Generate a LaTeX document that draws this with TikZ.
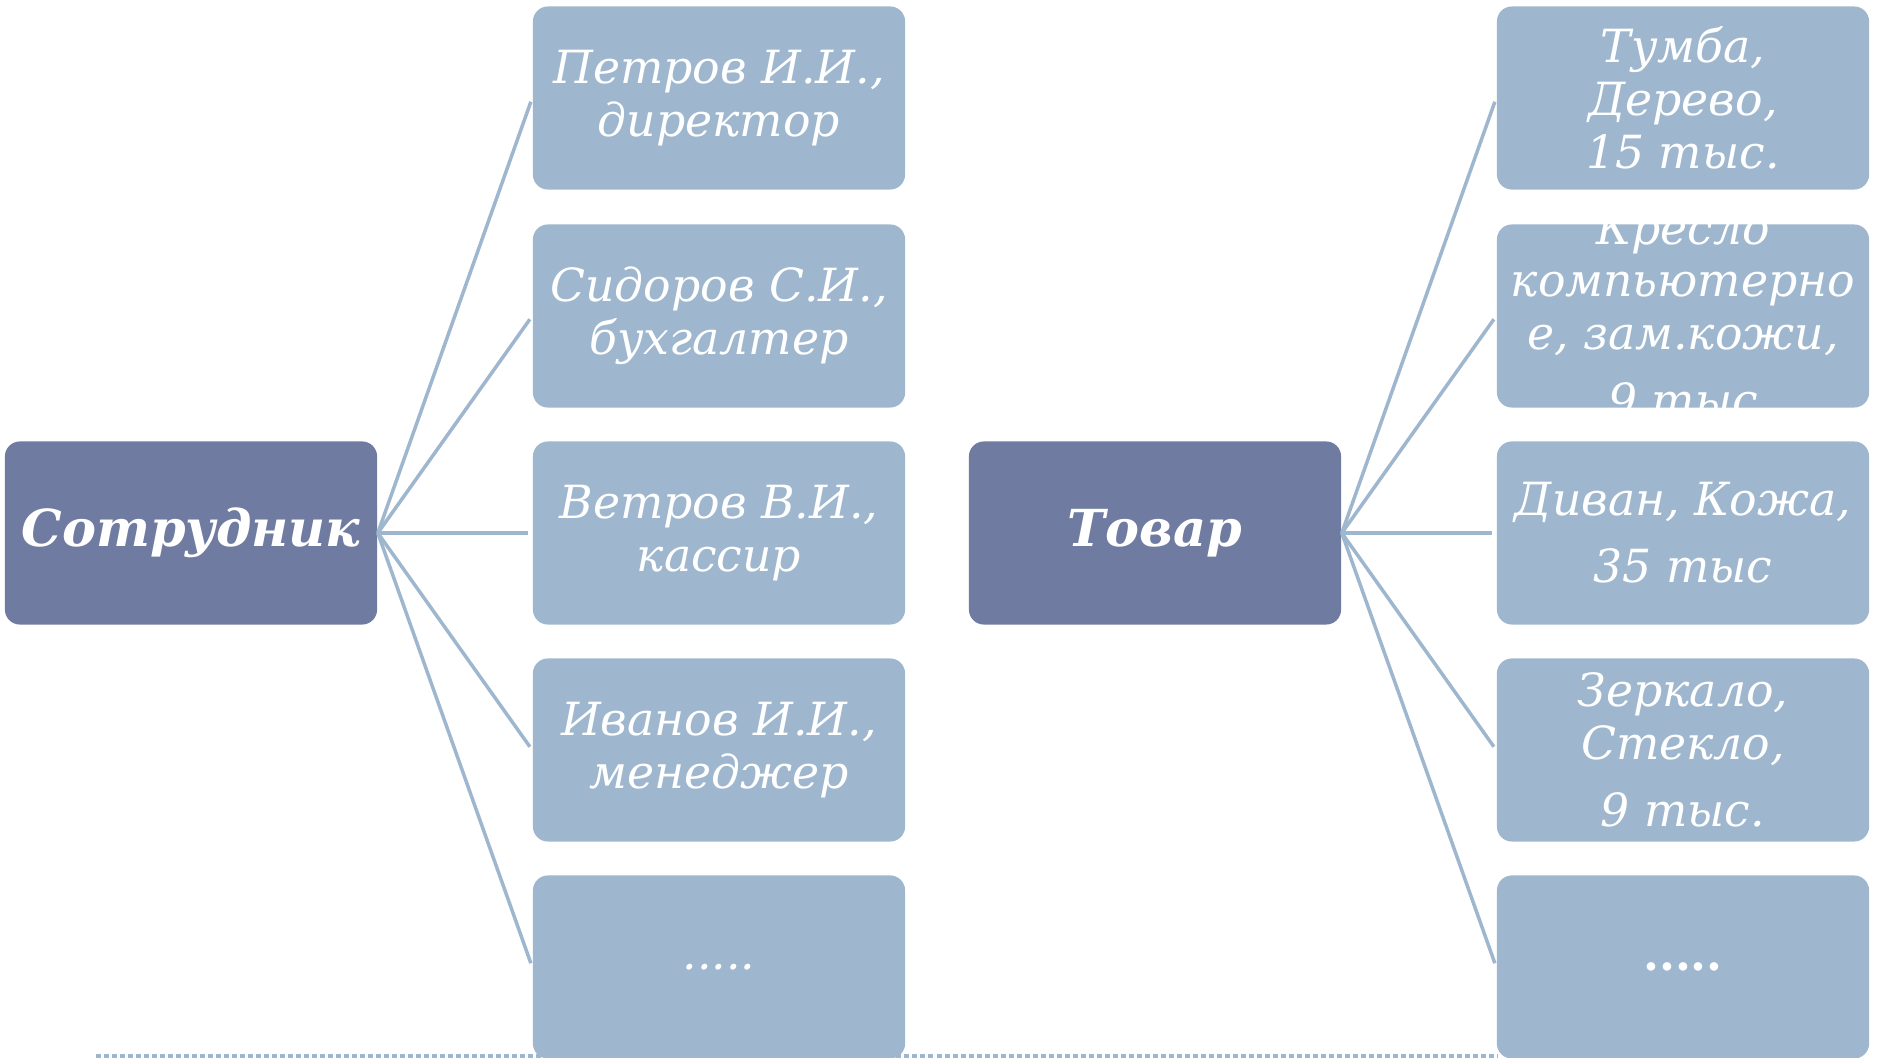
\documentclass[tikz,border=0pt]{standalone}
\usepackage{fontspec}
\setmainfont{DejaVu Serif}
\usetikzlibrary{positioning}
\definecolor{rootblue}{HTML}{6F7BA0}
\definecolor{leafblue}{HTML}{9EB7CE}

\begin{document}
\begin{tikzpicture}[x=0.01cm,y=-0.01cm,
    rootbox/.style={fill=rootblue,rounded corners=0.15cm,minimum width=3.72cm,minimum height=1.83cm,
      inner sep=0pt,text=white,font=\fontsize{14.5}{17}\selectfont\bfseries\itshape},
    leafbox/.style={fill=leafblue,rounded corners=0.15cm,minimum width=3.72cm,minimum height=1.83cm,
      text=white,align=center,font=\fontsize{13}{15}\selectfont\itshape},
    leaftext/.style={text=white,align=center,font=\fontsize{13}{15}\selectfont\itshape},
    branch/.style={draw=leafblue,line width=0.035cm,shorten >=0.04cm}]
    \useasboundingbox (0,0) rectangle (1878,1058);
    % dotted base line
    \draw[leafblue,line width=0.035cm,dash pattern=on 0.05cm off 0.03cm] (96,1056) -- (1497,1056);
    % employees
    \node[rootbox] (emp) at (191,533) {Сотрудник};
    \node[leafbox] (emp1) at (719,98) {Петров И.И.,\\директор};
    \node[leafbox] (emp2) at (719,316) {Сидоров С.И.,\\бухгалтер};
    \node[leafbox] (emp3) at (719,533) {Ветров В.И.,\\кассир};
    \node[leafbox] (emp4) at (719,750) {Иванов И.И.,\\менеджер};
    \node[leafbox] (emp5) at (719,967) {.....};
    % goods
    \node[rootbox] (good) at (1155,533) {Товар};
    \node[leafbox] (good1) at (1683,98) {Тумба,\\Дерево,\\15 тыс.};
    \node[leafbox] (good2) at (1683,316) {};
    \node[leaftext] (good2txt) at (1683,314) {Кресло\\компьютерно\\е, зам.кожи,\\[4pt]9 тыс};
    \node[leafbox] (good3) at (1683,533) {Диван, Кожа,\\[4pt]35 тыс};
    \node[leafbox] (good4) at (1683,750) {Зеркало,\\Стекло,\\[4pt]9 тыс.};
    \node[leafbox,font=\fontsize{13}{15}\selectfont\bfseries] (good5) at (1683,967) {.....};
    \foreach \i in {1,...,5} {
      \draw[branch] (emp.east) -- (emp\i.west);
      \draw[branch] (good.east) -- (good\i.west);
    }
  \end{tikzpicture}
\end{document}
